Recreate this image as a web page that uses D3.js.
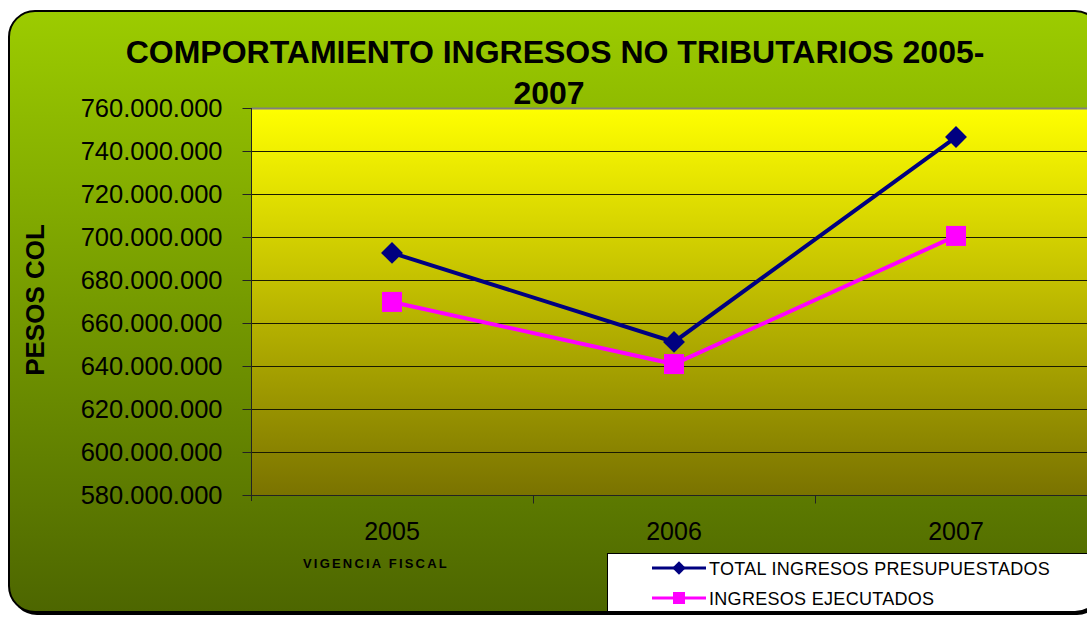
<!DOCTYPE html>
<html>
<head>
<meta charset="utf-8">
<script src="https://cdn.jsdelivr.net/npm/d3@7"></script>
<style>
  body { margin: 0; background: #fff; }
  svg { display: block; font-family: "Liberation Sans", Arial, sans-serif; }
</style>
</head>
<body>
<div id="chart"></div>
<script>
// Data
const years = ['2005', '2006', '2007'];
const totalPresupuestado = [692600000, 651200000, 746500000];
const ingresosEjecutados = [669800000, 640900000, 700500000];
const yTicks = [580000000, 600000000, 620000000, 640000000, 660000000, 680000000, 700000000, 720000000, 740000000, 760000000];
const seriesNames = ['TOTAL INGRESOS PRESUPUESTADOS', 'INGRESOS EJECUTADOS'];

const width = 1087;
const height = 618;

const svg = d3.select('#chart').append('svg')
  .attr('width', width)
  .attr('height', height);

const defs = svg.append('defs');

const bgGrad = defs.append('linearGradient')
  .attr('id', 'bgGrad').attr('x1', 0).attr('y1', 0).attr('x2', 0).attr('y2', 1);
bgGrad.append('stop').attr('offset', '0%').attr('stop-color', '#9ccc00');
bgGrad.append('stop').attr('offset', '100%').attr('stop-color', '#4d6600');

const plotGrad = defs.append('linearGradient')
  .attr('id', 'plotGrad').attr('x1', 0).attr('y1', 0).attr('x2', 0).attr('y2', 1);
plotGrad.append('stop').attr('offset', '0%').attr('stop-color', '#ffff00');
plotGrad.append('stop').attr('offset', '100%').attr('stop-color', '#7a7300');

const outer = { x: 9, y: 11, w: 1092, h: 601, r: 26 };

defs.append('clipPath').attr('id', 'outerClip')
  .append('rect')
  .attr('x', outer.x).attr('y', outer.y)
  .attr('width', outer.w).attr('height', outer.h)
  .attr('rx', outer.r);

// shadow
svg.append('rect')
  .attr('x', outer.x + 2).attr('y', outer.y + 3)
  .attr('width', outer.w).attr('height', outer.h)
  .attr('rx', outer.r)
  .attr('fill', '#000');

svg.append('rect')
  .attr('x', outer.x).attr('y', outer.y)
  .attr('width', outer.w).attr('height', outer.h)
  .attr('rx', outer.r)
  .attr('fill', 'url(#bgGrad)');

const g = svg.append('g').attr('clip-path', 'url(#outerClip)');

// Scales
const plot = { left: 251, right: 1097, top: 108, bottom: 495 };

const x = d3.scaleBand().domain(years).range([plot.left, plot.right]);
const y = d3.scaleLinear().domain([580000000, 760000000]).range([plot.bottom, plot.top]);

// plot area
g.append('rect')
  .attr('x', plot.left).attr('y', plot.top)
  .attr('width', plot.right - plot.left).attr('height', plot.bottom - plot.top)
  .attr('fill', 'url(#plotGrad)');

g.append('line')
  .attr('x1', plot.left).attr('x2', plot.right)
  .attr('y1', plot.top + 0.5).attr('y2', plot.top + 0.5)
  .attr('stroke', '#808080').attr('stroke-width', 2);

// gridlines
g.selectAll('.grid')
  .data(yTicks.slice(1, -1))
  .enter().append('line')
  .attr('class', 'grid')
  .attr('x1', plot.left).attr('x2', plot.right)
  .attr('y1', d => Math.round(y(d)) + 0.5).attr('y2', d => Math.round(y(d)) + 0.5)
  .attr('stroke', '#1a1a00').attr('stroke-width', 1);

// y axis
const fmt = d => d3.format(',')(d).replace(/,/g, '.');
const yAxis = d3.axisLeft(y).tickValues(yTicks).tickFormat(fmt).tickSize(9).tickPadding(20);
const yG = g.append('g')
  .attr('transform', 'translate(' + (plot.left + 0.5) + ',0)')
  .call(yAxis);
yG.select('.domain').attr('stroke', '#222').attr('d', 'M0,' + plot.top + 'V' + (plot.bottom + 6));
yG.selectAll('.tick line').attr('stroke', '#222');
yG.selectAll('.tick text')
  .attr('fill', '#000')
  .style('font-size', '25.5px')
  .style('font-family', '"Liberation Sans", Arial, sans-serif');

// x axis
const xG = g.append('g')
  .attr('transform', 'translate(0,' + (plot.bottom + 0.5) + ')');
xG.append('line')
  .attr('x1', plot.left).attr('x2', plot.right)
  .attr('stroke', '#222');
xG.selectAll('.xtick')
  .data(years.slice(1))
  .enter().append('line')
  .attr('class', 'xtick')
  .attr('x1', d => Math.round(x(d)) + 0.5).attr('x2', d => Math.round(x(d)) + 0.5)
  .attr('y1', 0).attr('y2', 8)
  .attr('stroke', '#222');
xG.selectAll('.xlabel')
  .data(years)
  .enter().append('text')
  .attr('class', 'xlabel')
  .attr('x', d => x(d) + x.bandwidth() / 2)
  .attr('y', 44)
  .attr('text-anchor', 'middle')
  .style('font-size', '25px')
  .text(d => d);

// lines
const line = d3.line()
  .x((d, i) => x(years[i]) + x.bandwidth() / 2)
  .y(d => y(d));

g.append('path')
  .datum(totalPresupuestado)
  .attr('fill', 'none')
  .attr('stroke', '#000080')
  .attr('stroke-width', 4)
  .attr('d', line);

g.append('path')
  .datum(ingresosEjecutados)
  .attr('fill', 'none')
  .attr('stroke', '#ff00ff')
  .attr('stroke-width', 4)
  .attr('d', line);

const diamond = d3.symbol().type(d3.symbolSquare).size(240);

g.selectAll('.dmark')
  .data(totalPresupuestado)
  .enter().append('path')
  .attr('class', 'dmark')
  .attr('d', diamond)
  .attr('transform', (d, i) => 'translate(' + (x(years[i]) + x.bandwidth() / 2) + ',' + y(d) + ') rotate(45)')
  .attr('fill', '#000080');

g.selectAll('.smark')
  .data(ingresosEjecutados)
  .enter().append('rect')
  .attr('class', 'smark')
  .attr('x', (d, i) => x(years[i]) + x.bandwidth() / 2 - 10)
  .attr('y', d => y(d) - 10)
  .attr('width', 20).attr('height', 20)
  .attr('fill', '#ff00ff');

// title
const title = g.append('text')
  .attr('text-anchor', 'middle')
  .style('font-size', '32px')
  .style('font-weight', 'bold');
title.append('tspan').attr('x', 555).attr('y', 63).text('COMPORTAMIENTO INGRESOS NO TRIBUTARIOS 2005-');
title.append('tspan').attr('x', 549).attr('y', 104).text('2007');

// y label
g.append('text')
  .attr('transform', 'translate(44,300) rotate(-90)')
  .attr('text-anchor', 'middle')
  .style('font-size', '26px')
  .style('font-weight', 'bold')
  .text('PESOS COL');

// x label
g.append('text')
  .attr('x', 303).attr('y', 568)
  .style('font-size', '13px')
  .style('font-weight', 'bold')
  .style('letter-spacing', '2.2px')
  .text('VIGENCIA FISCAL');

// legend
const legend = g.append('g');
legend.append('rect')
  .attr('x', 607.5).attr('y', 553.5)
  .attr('width', 520).attr('height', 80)
  .attr('fill', '#fff')
  .attr('stroke', '#000');

const legendColors = ['#000080', '#ff00ff'];
const items = legend.selectAll('.item')
  .data(seriesNames)
  .enter().append('g')
  .attr('class', 'item')
  .attr('transform', (d, i) => 'translate(0,' + (568 + i * 30) + ')');

items.append('line')
  .attr('x1', 652).attr('x2', 706)
  .attr('stroke', (d, i) => legendColors[i])
  .attr('stroke-width', 3);

items.filter((d, i) => i === 0).append('path')
  .attr('d', d3.symbol().type(d3.symbolSquare).size(90))
  .attr('transform', 'translate(679,0) rotate(45)')
  .attr('fill', legendColors[0]);

items.filter((d, i) => i === 1).append('rect')
  .attr('x', 673).attr('y', -6)
  .attr('width', 12).attr('height', 12)
  .attr('fill', legendColors[1]);

items.append('text')
  .attr('x', 709).attr('y', 7)
  .style('font-size', '18px')
  .style('letter-spacing', '0.3px')
  .text(d => d);

// outer border
svg.append('rect')
  .attr('x', outer.x).attr('y', outer.y)
  .attr('width', outer.w).attr('height', outer.h)
  .attr('rx', outer.r)
  .attr('fill', 'none')
  .attr('stroke', '#000')
  .attr('stroke-width', 2);
</script>
</body>
</html>
